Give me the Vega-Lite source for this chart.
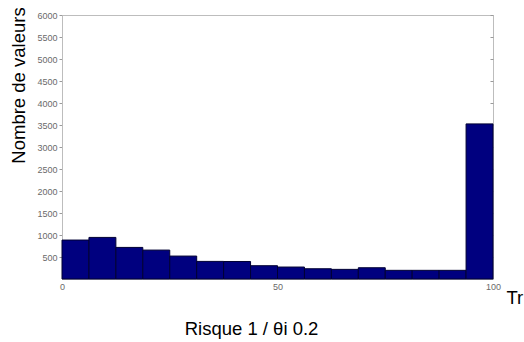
{
  "$schema": "https://vega.github.io/schema/vega-lite/v6.json",
  "width": 431,
  "height": 264,
  "autosize": {"type": "none"},
  "padding": {"left": 62, "top": 15, "right": 31, "bottom": 63},
  "background": "white",
  "config": {
    "font": "Liberation Sans",
    "view": {"stroke": "#bdbdbd", "strokeWidth": 1},
    "axis": {"grid": false, "domainColor": "#bdbdbd", "tickColor": "#9a9a9a", "labelColor": "#6a6a6a", "labelFont": "Liberation Sans", "labelFontSize": 9, "titleFont": "Liberation Sans", "titleFontWeight": "normal", "titleColor": "#000000"}
  },
  "title": {"text": "Risque 1 / θi 0.2", "orient": "bottom", "anchor": "middle", "frame": "group", "dx": -26, "offset": 13, "fontSize": 18.5, "fontWeight": "normal", "font": "Liberation Sans", "color": "#000000"},
  "data": {"values": [
    {"start": 0, "end": 6.25, "count": 885},
    {"start": 6.25, "end": 12.5, "count": 945},
    {"start": 12.5, "end": 18.75, "count": 718},
    {"start": 18.75, "end": 25, "count": 657},
    {"start": 25, "end": 31.25, "count": 521},
    {"start": 31.25, "end": 37.5, "count": 400},
    {"start": 37.5, "end": 43.75, "count": 398},
    {"start": 43.75, "end": 50, "count": 302},
    {"start": 50, "end": 56.25, "count": 272},
    {"start": 56.25, "end": 62.5, "count": 233},
    {"start": 62.5, "end": 68.75, "count": 219},
    {"start": 68.75, "end": 75, "count": 256},
    {"start": 75, "end": 81.25, "count": 197},
    {"start": 81.25, "end": 87.5, "count": 197},
    {"start": 87.5, "end": 93.75, "count": 197},
    {"start": 93.75, "end": 100, "count": 3525}
  ]},
  "layer": [
    {
      "mark": {"type": "bar", "orient": "vertical", "color": "#00007f", "stroke": "#000033", "strokeWidth": 1},
      "encoding": {
        "x": {"field": "start", "type": "quantitative", "scale": {"domain": [0, 100], "nice": false, "padding": 0},
          "axis": {"values": [0, 50, 100], "ticks": false, "labelPadding": 3, "title": "Tr", "titleFontSize": 18.5, "titleX": 444, "titleY": 24, "titleAlign": "left", "titleBaseline": "alphabetic", "labelFlush": false}},
        "x2": {"field": "end"},
        "y": {"field": "count", "type": "quantitative", "scale": {"domain": [0, 6000], "nice": false},
          "axis": {"values": [500, 1000, 1500, 2000, 2500, 3000, 3500, 4000, 4500, 5000, 5500, 6000], "format": "d", "tickSize": 3, "labelPadding": 2, "title": "Nombre de valeurs", "titleFontSize": 18.5, "titlePadding": 8, "titleY": 70}}
      }
    },
    {
      "mark": {"type": "tick", "opacity": 0},
      "encoding": {
        "y": {"field": "count", "type": "quantitative", "scale": {"domain": [0, 6000], "nice": false},
          "axis": {"orient": "right", "values": [500, 1000, 1500, 2000, 2500, 3000, 3500, 4000, 4500, 5000, 5500, 6000], "labels": false, "tickSize": -3, "title": null, "domain": false}}
      }
    }
  ],
  "resolve": {"axis": {"y": "independent"}}
}
